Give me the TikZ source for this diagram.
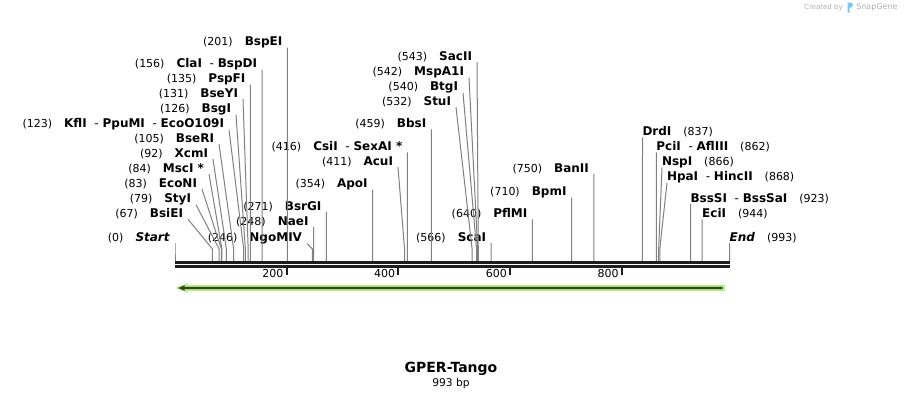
\documentclass[tikz,border=0pt]{standalone}
\usepackage{fontspec}
\setmainfont{DejaVu Sans}
\usepackage{xcolor}

\definecolor{cutgray}{RGB}{128,128,128}
\definecolor{axisblack}{RGB}{30,30,30}
\definecolor{featgreen}{RGB}{176,242,128}
\definecolor{featdark}{RGB}{58,66,52}
\definecolor{logogray}{RGB}{175,175,175}
\definecolor{logoblue}{RGB}{120,200,240}

\newcommand{\sitepos}[1]{{\fontsize{8.25pt}{10pt}\selectfont(#1)}}
\newcommand{\sitename}[1]{\textbf{#1}}
\newcommand{\sitegap}{\hspace{9pt}}
\newcommand{\sitedash}{\ \ -\ }

\begin{document}
\begin{tikzpicture}[x=0.75pt,y=0.75pt,yscale=-1,xscale=1,
  lsite/.style={anchor=east,inner sep=0pt,outer xsep=3.75pt,outer ysep=0pt,font=\fontsize{9pt}{11pt}\selectfont},
  rsite/.style={anchor=west,inner sep=0pt,outer sep=0pt,font=\fontsize{9pt}{11pt}\selectfont},
  cut/.style={draw=cutgray,line width=0.75pt},
  axisbar/.style={draw=axisblack,line width=2.25pt},
  tick/.style={draw=axisblack,line width=1.5pt}]
\useasboundingbox (0,0) rectangle (904,400);

% site positions on the sequence (x = 175 + 0.5585 * bp)
\foreach \p in {0,67,79,83,84,92,105,123,126,131,135,156,201,246,248,271,354,411,416,459,532,540,542,543,566,640,710,750,837,862,866,868,923,944,993} {
  \coordinate (s\p) at ({175+0.5585*\p},261);
  \coordinate (k\p) at ({175+0.5585*\p},249);
}

% Text Node - left group
\node[lsite] (n201) at (287.3,42) {\sitepos{201}\sitegap\sitename{BspEI}};
\node[lsite] (n156) at (262.1,64) {\sitepos{156}\sitegap\sitename{ClaI}\sitedash\sitename{BspDI}};
\node[lsite] (n135) at (250.4,79) {\sitepos{135}\sitegap\sitename{PspFI}};
\node[lsite] (n131) at (243,94) {\sitepos{131}\sitegap\sitename{BseYI}};
\node[lsite] (n126) at (236,109) {\sitepos{126}\sitegap\sitename{BsgI}};
\node[lsite] (n123) at (229,124) {\sitepos{123}\sitegap\sitename{KflI}\sitedash\sitename{PpuMI}\sitedash\sitename{EcoO109I}};
\node[lsite] (n105) at (219,139) {\sitepos{105}\sitegap\sitename{BseRI}};
\node[lsite] (n92) at (213,154) {\sitepos{92}\sitegap\sitename{XcmI}};
\node[lsite] (n84) at (209,169) {\sitepos{84}\sitegap\sitename{MscI *}};
\node[lsite] (n83) at (202,184) {\sitepos{83}\sitegap\sitename{EcoNI}};
\node[lsite] (n79) at (196,199) {\sitepos{79}\sitegap\sitename{StyI}};
\node[lsite] (n67) at (188,214) {\sitepos{67}\sitegap\sitename{BsiEI}};
\node[lsite] (n0) at (175,238) {\sitepos{0}\sitegap\textbf{\textit{Start}}};

% Text Node - middle group
\node[lsite] (n246) at (307,238) {\sitepos{246}\sitegap\sitename{NgoMIV}};
\node[lsite] (n248) at (313.5,222) {\sitepos{248}\sitegap\sitename{NaeI}};
\node[lsite] (n271) at (326.4,207) {\sitepos{271}\sitegap\sitename{BsrGI}};
\node[lsite] (n354) at (372.7,184) {\sitepos{354}\sitegap\sitename{ApoI}};
\node[lsite] (n411) at (398,162) {\sitepos{411}\sitegap\sitename{AcuI}};
\node[lsite] (n416) at (407.3,147) {\sitepos{416}\sitegap\sitename{CsiI}\sitedash\sitename{SexAI *}};
\node[lsite] (n459) at (431.3,124) {\sitepos{459}\sitegap\sitename{BbsI}};
\node[lsite] (n532) at (456,102) {\sitepos{532}\sitegap\sitename{StuI}};
\node[lsite] (n540) at (463,87) {\sitepos{540}\sitegap\sitename{BtgI}};
\node[lsite] (n542) at (469,72) {\sitepos{542}\sitegap\sitename{MspA1I}};
\node[lsite] (n543) at (477,57) {\sitepos{543}\sitegap\sitename{SacII}};
\node[lsite] (n566) at (491.1,238) {\sitepos{566}\sitegap\sitename{ScaI}};
\node[lsite] (n640) at (532.4,214) {\sitepos{640}\sitegap\sitename{PflMI}};
\node[lsite] (n710) at (571.5,192) {\sitepos{710}\sitegap\sitename{BpmI}};
\node[lsite] (n750) at (593.9,169) {\sitepos{750}\sitegap\sitename{BanII}};

% Text Node - right group
\node[rsite] (n837) at (642.5,132) {\sitename{DrdI}\sitegap\sitepos{837}};
\node[rsite] (n862) at (656.4,147) {\sitename{PciI}\sitedash\sitename{AflIII}\sitegap\sitepos{862}};
\node[rsite] (n866) at (662,162) {\sitename{NspI}\sitegap\sitepos{866}};
\node[rsite] (n868) at (667,177) {\sitename{HpaI}\sitedash\sitename{HincII}\sitegap\sitepos{868}};
\node[rsite] (n923) at (690.5,199) {\sitename{BssSI}\sitedash\sitename{BssSaI}\sitegap\sitepos{923}};
\node[rsite] (n944) at (702.2,214) {\sitename{EciI}\sitegap\sitepos{944}};
\node[rsite] (n993) at (729.6,238) {\textbf{\textit{End}}\sitegap\sitepos{993}};

%Straight Lines - cut sites
\foreach \p in {0,67,79,83,84,92,105,123,126,131,135,156,201,246,248,271,354,411,416,459,532,540,542,543,566,640,710,750}
  \draw[cut] (n\p.south east) -- (k\p) -- (s\p);
\foreach \p in {837,862,866,868,923,944,993}
  \draw[cut] (n\p.south west) -- (k\p) -- (s\p);

%Shape: sequence bars
\draw[axisbar] (175,262.5) -- (729.6,262.5);
\draw[axisbar] (175,266.5) -- (729.6,266.5);
\foreach \t in {200,400,600,800} {
  \draw[tick] ({175+0.5585*\t},267.5) -- ({175+0.5585*\t},275);
  \node[anchor=east,inner sep=0pt,font=\fontsize{8.25pt}{10pt}\selectfont] (t\t) at ({172+0.5585*\t},273) {\t};
}

%Shape: feature arrow
\fill[featgreen] (725,284.8) -- (187,284.8) -- (187,283.2) -- (175.5,288) -- (187,292.8) -- (187,291.2) -- (725,291.2) -- cycle;
\fill[featdark] (722.7,286.9) -- (184.5,286.9) -- (184.5,285.3) -- (178,288) -- (184.5,290.7) -- (184.5,289.1) -- (722.7,289.1) -- cycle;

% Text Node - title
\node[font=\fontsize{10.5pt}{12pt}\selectfont\bfseries] (title) at (451,369) {GPER-Tango};
\node[font=\fontsize{8pt}{10pt}\selectfont] (bplen) at (451,384) {993 bp};

% Text Node - logo
\node[anchor=east,inner sep=0pt,text=logogray,font=\fontsize{5.25pt}{6pt}\selectfont] (created) at (843,7.5) {Created by};
\fill[logoblue] (847.5,2.5) -- (851,2.5) .. controls (853.5,2.5) and (853.5,7.5) .. (851,7.5) -- (849.5,7.5) -- (849.5,12.5) -- (847.5,12.5) -- cycle;
\node[anchor=west,inner sep=0pt,text=logogray,font=\fontsize{6pt}{7pt}\selectfont] (snapgene) at (856,7.5) {SnapGene};

\end{tikzpicture}
\end{document}
